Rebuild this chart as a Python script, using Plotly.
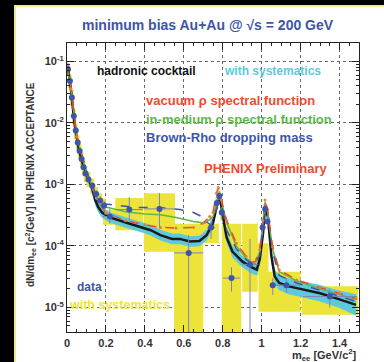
import plotly.graph_objects as go

# ---------------- data ----------------
# hadronic cocktail (black line) and its relative systematic (cyan band)
ck_m = [0.0, 0.01, 0.02, 0.03, 0.04, 0.05, 0.06, 0.08, 0.10, 0.12, 0.13, 0.145, 0.16, 0.18, 0.22,
        0.31, 0.39, 0.43, 0.48, 0.54, 0.58, 0.63, 0.68, 0.717, 0.75, 0.774, 0.782, 0.793, 0.819,
        0.85, 0.90, 0.947, 0.975, 0.99, 1.007, 1.015, 1.02, 1.032, 1.05, 1.067, 1.09, 1.14, 1.2,
        1.3, 1.4, 1.485]
ck_y = [0.087, 0.06, 0.035, 0.016, 0.009, 0.0058, 0.0038, 0.0022, 0.0015, 0.00105, 0.00085,
        5.6e-4, 4.3e-4, 3.5e-4, 2.9e-4, 2.36e-4, 2.0e-4, 1.8e-4, 1.5e-4, 1.3e-4, 1.3e-4, 1.18e-4,
        1.2e-4, 1.5e-4, 2.35e-4, 5.6e-4, 6.7e-4, 4.4e-4, 1.4e-4, 8.1e-5, 5.6e-5, 4.5e-5, 4.1e-5,
        6.0e-5, 1.6e-4, 3.5e-4, 4.2e-4, 3.0e-4, 6.8e-5, 3.2e-5, 2.5e-5, 2.2e-5, 2.0e-5, 1.7e-5,
        1.35e-5, 1.1e-5]
ck_rel = [0.2, 0.2, 0.2, 0.2, 0.2, 0.2, 0.2, 0.2, 0.22, 0.22, 0.22, 0.22, 0.22, 0.22, 0.22,
          0.22, 0.22, 0.22, 0.22, 0.22, 0.22, 0.22, 0.22, 0.22, 0.22, 0.22, 0.22, 0.22, 0.22,
          0.25, 0.25, 0.25, 0.25, 0.25, 0.25, 0.25, 0.25, 0.25, 0.28, 0.3, 0.32, 0.34, 0.35,
          0.36, 0.38, 0.5]

# vacuum rho spectral function (red dashed)
vac_m = [0.0, 0.02, 0.05, 0.1, 0.15, 0.2, 0.3, 0.4, 0.48, 0.56, 0.65, 0.70, 0.733, 0.75, 0.768,
         0.777, 0.793, 0.82, 0.87, 0.92, 0.965, 0.99, 1.007, 1.017, 1.03, 1.056, 1.09, 1.18,
         1.3, 1.4, 1.485]
vac_y = [0.087, 0.036, 0.006, 0.00155, 6.0e-4, 3.4e-4, 2.6e-4, 2.2e-4, 2.0e-4, 1.95e-4, 2.0e-4,
         2.35e-4, 3.0e-4, 3.5e-4, 7.2e-4, 8.9e-4, 5.6e-4, 2.6e-4, 1.1e-4, 6.8e-5, 5.3e-5, 8.7e-5,
         2.6e-4, 5.6e-4, 3.9e-4, 9.8e-5, 4.1e-5, 2.8e-5, 2.1e-5, 1.7e-5, 1.4e-5]

# in-medium rho spectral function (green solid)
med_m = [0.0, 0.02, 0.05, 0.1, 0.15, 0.2, 0.3, 0.4, 0.48, 0.56, 0.65, 0.71, 0.75, 0.772, 0.783,
         0.795, 0.82, 0.87, 0.92, 0.965, 0.99, 1.007, 1.018, 1.03, 1.056, 1.09, 1.18, 1.3, 1.4,
         1.485]
med_y = [0.087, 0.036, 0.006, 0.00155, 6.3e-4, 4.3e-4, 3.6e-4, 3.3e-4, 3.2e-4, 2.9e-4, 2.5e-4,
         2.35e-4, 3.0e-4, 5.2e-4, 7.6e-4, 5.0e-4, 2.4e-4, 1.0e-4, 6.3e-5, 5.0e-5, 8.0e-5, 2.5e-4,
         5.2e-4, 3.7e-4, 9.0e-5, 3.8e-5, 2.7e-5, 2.0e-5, 1.6e-5, 1.35e-5]

# Brown-Rho dropping mass (blue dashed)
br_m = [0.0, 0.02, 0.05, 0.1, 0.15, 0.2, 0.25, 0.36, 0.48, 0.58, 0.65, 0.70, 0.72, 0.74, 0.76,
        0.775, 0.783, 0.795, 0.82, 0.87, 0.92, 0.965, 0.99, 1.007, 1.018, 1.03, 1.056, 1.09,
        1.18, 1.3, 1.4, 1.485]
br_y = [0.087, 0.036, 0.006, 0.0016, 6.8e-4, 4.8e-4, 4.6e-4, 4.2e-4, 4.2e-4, 3.9e-4, 3.5e-4,
        2.9e-4, 2.4e-4, 2.2e-4, 3.0e-4, 5.5e-4, 7.0e-4, 4.6e-4, 1.8e-4, 9.0e-5, 6.0e-5, 4.8e-5,
        7.0e-5, 2.0e-4, 4.6e-4, 3.3e-4, 8.0e-5, 3.3e-5, 2.5e-5, 1.9e-5, 1.5e-5, 1.25e-5]

# PHENIX data points
d_m = [0.005, 0.015, 0.025, 0.035, 0.045, 0.055, 0.065, 0.075, 0.085, 0.095, 0.11, 0.13, 0.15,
       0.17, 0.19, 0.22, 0.32, 0.475, 0.625, 0.74, 0.77, 0.782, 0.795, 0.845, 0.94, 1.005,
       1.018, 1.03, 1.057, 1.127, 1.35]
d_y = [0.075, 0.048, 0.026, 0.013, 0.0075, 0.0048, 0.0035, 0.0026, 0.0019, 0.0015, 0.0012,
       9.5e-4, 7.0e-4, 5.5e-4, 4.5e-4, 3.0e-4, 3.9e-4, 4.0e-4, 7.7e-5, 2.0e-4, 5.0e-4, 6.5e-4,
       3.5e-4, 3.0e-5, 5.0e-5, 2.0e-4, 4.0e-4, 2.5e-4, 2.3e-5, 2.3e-5, 1.5e-5]
d_xerr = [0.005, 0.005, 0.005, 0.005, 0.005, 0.005, 0.005, 0.005, 0.005, 0.005, 0.01, 0.01, 0.01,
          0.01, 0.01, 0.035, 0.07, 0.08, 0.075, 0.02, 0.008, 0.005, 0.008, 0.045, 0.04, 0.006,
          0.006, 0.006, 0.015, 0.07, 0.14]
d_sys_xw = [0.009, 0.009, 0.009, 0.009, 0.009, 0.009, 0.009, 0.009, 0.009, 0.009, 0.01, 0.01, 0.01,
            0.01, 0.01, 0.035, 0.072, 0.08, 0.075, 0.04, 0.008, 0.006, 0.008, 0.05, 0.04, 0.03,
            0.0, 0.0, 0.073, 0.073, 0.145]
d_stat_lo = [0.07, 0.045, 0.024, 0.012, 0.0069, 0.0044, 0.0032, 0.0023, 0.0017, 0.0013, 0.00105,
             8.2e-4, 5.9e-4, 4.5e-4, 3.6e-4, 2.3e-4, 2.6e-4, 2.0e-4, 1e-6, 1.3e-4, 4.2e-4, 5.6e-4,
             2.7e-4, 1.8e-5, 1e-6, 1.5e-4, 3.3e-4, 1.9e-4, 1.6e-5, 1.7e-5, 1.0e-5]
d_stat_hi = [0.08, 0.051, 0.028, 0.014, 0.0081, 0.0052, 0.0038, 0.0029, 0.0021, 0.0017, 0.00135,
             1.08e-3, 8.1e-4, 6.5e-4, 5.4e-4, 4.0e-4, 6.2e-4, 7.2e-4, 1.5e-4, 2.8e-4, 5.8e-4, 7.4e-4,
             4.3e-4, 4.5e-5, 1.3e-4, 2.6e-4, 4.7e-4, 3.1e-4, 3.0e-5, 3.0e-5, 2.0e-5]
d_sys_lo = [0.058, 0.037, 0.019, 0.0095, 0.0055, 0.0035, 0.0026, 0.0019, 0.0014, 0.0011, 9.0e-4,
            7.0e-4, 5.2e-4, 4.1e-4, 3.4e-4, 2.2e-4, 1.8e-4, 8.0e-5, 1e-6, 1.1e-4, 3.9e-4, 5.2e-4,
            2.6e-4, 1e-6, 1.8e-5, 3.4e-5, 3.3e-4, 1.9e-4, 8.5e-6, 8.5e-6, 7.6e-6]
d_sys_hi = [0.095, 0.062, 0.034, 0.017, 0.0098, 0.0063, 0.0046, 0.0034, 0.0025, 0.002, 0.0016,
            1.25e-3, 9.0e-4, 7.2e-4, 5.9e-4, 3.8e-4, 6.0e-4, 7.2e-4, 2.3e-4, 2.3e-4, 6.2e-4, 8.0e-4,
            4.5e-4, 2.3e-4, 2.3e-4, 1.1e-4, 4.9e-4, 3.2e-4, 3.8e-5, 3.8e-5, 2.2e-5]

x_tick_vals = [0, 0.2, 0.4, 0.6, 0.8, 1.0, 1.2, 1.4]
x_tick_text = ["0", "0.2", "0.4", "0.6", "0.8", "1", "1.2", "1.4"]
y_tick_vals = [1e-5, 1e-4, 1e-3, 1e-2, 1e-1]
y_tick_text = ["10<sup>-5</sup>", "10<sup>-4</sup>", "10<sup>-3</sup>", "10<sup>-2</sup>", "10<sup>-1</sup>"]

# ---------------- styles ----------------
YELLOW = "#ede43a"
CYAN = "#5ec9dd"
RED = "#f04a2a"
GREEN = "#5cb848"
BLUE = "#3d55a8"
FONT = "Liberation Sans, Arial, sans-serif"

fig = go.Figure()

# yellow systematic boxes of data
bx, by = [], []
for m, xe, lo, hi in zip(d_m, d_sys_xw, d_sys_lo, d_sys_hi):
    if xe <= 0:
        continue
    bx += [m - xe, m + xe, m + xe, m - xe, m - xe, None]
    by += [lo, lo, hi, hi, lo, None]
fig.add_trace(go.Scatter(x=bx, y=by, mode="lines", fill="toself", fillcolor=YELLOW,
                         line=dict(width=0, color=YELLOW), hoverinfo="skip"))

# cyan cocktail band
ck_lo = [y / (1 + r) for y, r in zip(ck_y, ck_rel)]
ck_hi = [y * (1 + r) for y, r in zip(ck_y, ck_rel)]
fig.add_trace(go.Scatter(x=ck_m + ck_m[::-1], y=ck_hi + ck_lo[::-1], mode="lines", fill="toself",
                         fillcolor=CYAN, line=dict(width=0, color=CYAN), hoverinfo="skip"))
fig.add_trace(go.Scatter(x=ck_m, y=ck_y, mode="lines", line=dict(color="#1a1a1a", width=2.5)))

# model curves
fig.add_trace(go.Scatter(x=med_m, y=med_y, mode="lines", line=dict(color=GREEN, width=1.5)))
fig.add_trace(go.Scatter(x=br_m, y=br_y, mode="lines", line=dict(color=BLUE, width=1.5, dash="dash")))
fig.add_trace(go.Scatter(x=vac_m, y=vac_y, mode="lines+markers",
                         line=dict(color=RED, width=1.5, dash="dash"),
                         marker=dict(color="#f07a30", size=3)))

# data points with stat errors
fig.add_trace(go.Scatter(
    x=d_m, y=d_y, mode="markers",
    marker=dict(color=BLUE, size=6),
    error_x=dict(type="data", array=d_xerr, color="#7d85b8", thickness=1, width=0),
    error_y=dict(type="data", symmetric=False,
                 array=[h - y for h, y in zip(d_stat_hi, d_y)],
                 arrayminus=[y - l for y, l in zip(d_y, d_stat_lo)],
                 color="#7d85b8", thickness=1, width=0)))

minor_y = [k * 10.0 ** e for e in range(-6, 0) for k in range(2, 10)]

axis_common = dict(showline=True, linecolor="#222", linewidth=1, mirror="allticks",
                   ticks="inside", ticklen=7, tickcolor="#222",
                   showgrid=True, gridcolor="#666", griddash="dot", gridwidth=1,
                   zeroline=False,
                   tickfont=dict(family=FONT, size=11, color="#333", weight="bold"))

fig.update_layout(
    width=384, height=362,
    margin=dict(l=67, r=25, t=43, b=30),
    paper_bgcolor="black", plot_bgcolor="white",
    showlegend=False,
    xaxis=dict(range=[0, 1.5], tickmode="array", tickvals=x_tick_vals, ticktext=x_tick_text,
               ticklabelstandoff=1,
               minor=dict(ticks="inside", ticklen=3, dtick=0.05, tick0=0, tickcolor="#222", showgrid=False),
               **axis_common),
    yaxis=dict(type="log", range=[-5.4, -0.7], tickmode="array", tickvals=y_tick_vals,
               ticktext=y_tick_text,
               minor=dict(ticks="inside", ticklen=3, tickmode="array", tickvals=minor_y,
                          tickcolor="#222", showgrid=False),
               **axis_common),
)

# white panel behind everything
fig.add_shape(type="rect", xref="paper", yref="paper", x0=-0.178, x1=1.1, y0=-0.12, y1=1.128,
              fillcolor="white", line=dict(color="#ecec9a", width=2), layer="below")


def px(xp):
    return (xp - 67) / 292.0


def py(yp):
    return (332 - yp) / 289.0


def note(text, x, y, color, size, xanchor="left", angle=0):
    fig.add_annotation(text=text, x=x, y=y, xref="paper", yref="paper", showarrow=False,
                       xanchor=xanchor, yanchor="middle", textangle=angle,
                       font=dict(family=FONT, size=size, color=color, weight="bold"))


note("minimum bias Au+Au @ √s = 200 GeV", px(208), py(25), BLUE, 14, xanchor="center")
note("hadronic cocktail", px(95), py(71), "#111", 12)
note("with systematics", px(222), py(71), CYAN, 12)
note("vacuum ρ spectral function", px(144), py(100), RED, 13)
note("in-medium ρ spectral function", px(144), py(119), GREEN, 13)
note("Brown-Rho dropping mass", px(144), py(137), BLUE, 13)
note("PHENIX Preliminary", px(202), py(168), RED, 13)
note("data", px(75), py(287), BLUE, 12)
note("with systematics", px(67), py(305), YELLOW, 12.5)
note("m<sub>ee</sub> [GeV/c<sup>2</sup>]", px(359), py(355), "#333", 11, xanchor="right")
note("dN/dm<sub>ee</sub> [c<sup>2</sup>/GeV] IN PHENIX ACCEPTANCE", px(30), py(185), "#333", 10,
     xanchor="center", angle=-90)

fig.write_html("out.html")
